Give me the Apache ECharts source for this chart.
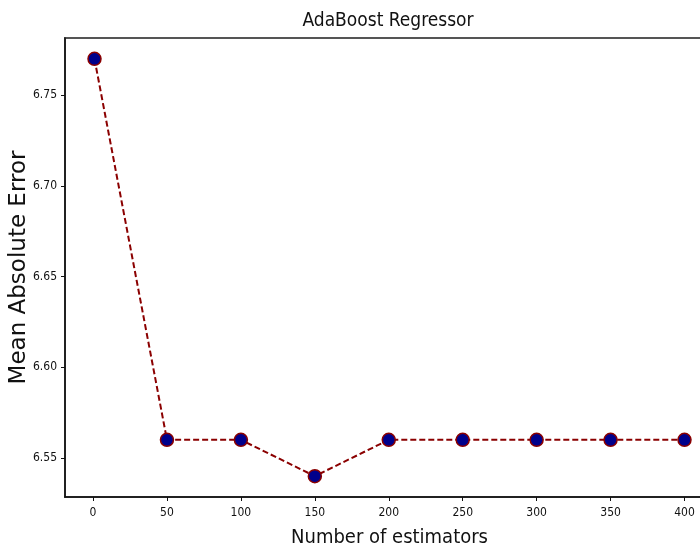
<!DOCTYPE html>
<html>
<head>
<meta charset="utf-8">
<script src="https://cdn.jsdelivr.net/npm/echarts@6/dist/echarts.min.js"></script>
<style>
	html, body { margin: 0; padding: 0; background: #fff; }
	#chartDiv { width: 700px; height: 552px; }
</style>
</head>
<body>
<div id="chartDiv"></div>
<script>
// 数据
var estimators = [1, 50, 100, 150, 200, 250, 300, 350, 400];
var maeValues = [6.77, 6.56, 6.56, 6.54, 6.56, 6.56, 6.56, 6.56, 6.56];
var xTicks = [0, 50, 100, 150, 200, 250, 300, 350, 400];
var yTicks = [6.55, 6.60, 6.65, 6.70, 6.75];

/**
 * 生成图表
 */
function createChart() {
	var myChart = echarts.init(document.getElementById('chartDiv'));
	var points = [];
	for (var i = 0; i < estimators.length; i++) {
		points.push([estimators[i], maeValues[i]]);
	}
	var tickFont = { color: '#111', fontSize: 12, fontFamily: 'DejaVu Sans Condensed' };

	var option = {
		animation: false,
		title: {
			text: 'AdaBoost Regressor',
			left: 383,
			top: 7,
			textAlign: 'center',
			textStyle: { fontSize: 19, fontWeight: 'normal', color: '#111', fontFamily: 'DejaVu Sans Condensed' }
		},
		grid: {
			left: 65, top: 38, bottom: 55, right: -14,
			outerBoundsMode: 'none',
			containLabel: false,
			show: true, borderColor: '#555', borderWidth: 2
		},
		xAxis: {
			type: 'value',
			min: -18.95,
			max: 419.95,
			name: 'Number of estimators',
			nameLocation: 'middle',
			nameGap: 31,
			nameTextStyle: { fontSize: 20, color: '#111', fontFamily: 'DejaVu Sans Condensed' },
			splitLine: { show: false },
			axisLine: { show: true, onZero: false, lineStyle: { color: '#111', width: 1.5 } },
			axisTick: { show: true, length: 4, customValues: xTicks, lineStyle: { color: '#111' } },
			axisLabel: Object.assign({ margin: 10, customValues: xTicks }, tickFont)
		},
		yAxis: {
			type: 'value',
			min: 6.5285,
			max: 6.7815,
			name: 'Mean Absolute Error',
			nameLocation: 'middle',
			nameGap: 34,
			nameMoveOverlap: false,
			nameTextStyle: { fontSize: 23, color: '#111', fontFamily: 'DejaVu Sans' },
			splitLine: { show: false },
			axisLine: { show: true, onZero: false, lineStyle: { color: '#111', width: 1.5 } },
			axisTick: { show: true, length: 4, customValues: yTicks, lineStyle: { color: '#111' } },
			axisLabel: Object.assign({
				margin: 8,
				customValues: yTicks,
				formatter: function (v) { return v.toFixed(2); }
			}, tickFont)
		},
		series: [{
			type: 'line',
			data: points,
			symbol: 'circle',
			symbolSize: 13,
			lineStyle: { color: '#8B0000', width: 2, type: [6, 3] },
			itemStyle: { color: '#00008B', borderColor: '#8B0000', borderWidth: 1.5 }
		}]
	};

	myChart.setOption(option);
}

createChart();
</script>
</body>
</html>
